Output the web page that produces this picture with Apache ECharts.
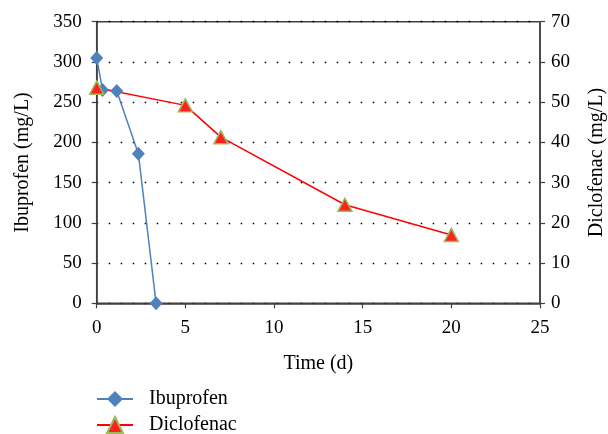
<!DOCTYPE html>
<html><head><meta charset="utf-8">
<script src="https://cdn.jsdelivr.net/npm/echarts@6/dist/echarts.min.js"></script>
<style>html,body{margin:0;padding:0;background:#fff}#c{width:608px;height:434px}</style>
</head><body><div id="c"></div>
<script>
const ibuTime = [0, 0.33, 1.13, 2.35, 3.35];
const ibuValues = [305, 265, 264, 186, 0];
const dicTime = [0, 5, 7, 14, 20];
const dicValues = [53.6, 49.2, 41.3, 24.5, 17.0];
const xTicks = [0, 5, 10, 15, 20, 25];
const leftTicks = [0, 50, 100, 150, 200, 250, 300, 350];
const rightTicks = [0, 10, 20, 30, 40, 50, 60, 70];

const font = 'Liberation Serif';
const axisCol = '#404040';
const tickFont = 19, nameFont = 20;
const chart = echarts.init(document.getElementById('c'));
const legendBase = {
  orient: 'vertical', left: 96, itemWidth: 36, itemHeight: 20, padding: 0,
  textStyle: {fontFamily: font, fontSize: nameFont, color: '#000', padding: [0, 0, 0, 11]}
};
chart.setOption({
  animation: false,
  textStyle: {fontFamily: font},
  grid: {left: 96.7, right: 68, top: 21.7, bottom: 130.7, containLabel: false, outerBoundsMode: 'none',
         show: true, borderColor: axisCol, borderWidth: 1.5, backgroundColor: 'transparent'},
  legend: [
    Object.assign({}, legendBase, {top: 389, data: ['Ibuprofen']}),
    Object.assign({}, legendBase, {top: 415, data: ['Diclofenac']})
  ],
  xAxis: {
    type: 'value', min: 0, max: 25, interval: 5,
    name: 'Time (d)', nameLocation: 'middle', nameGap: 50,
    nameTextStyle: {fontFamily: font, fontSize: nameFont, color: '#000'},
    axisLine: {lineStyle: {color: axisCol, width: 1.5}},
    axisTick: {show: true, length: 5, inside: false, lineStyle: {color: axisCol, width: 1.2}},
    axisLabel: {fontFamily: font, fontSize: tickFont, color: '#000', margin: 15},
    splitLine: {show: false}
  },
  yAxis: [{
    type: 'value', min: 0, max: 350, interval: 50, position: 'left',
    name: 'Ibuprofen (mg/L)', nameLocation: 'middle', nameGap: 64, nameRotate: 90,
    nameTextStyle: {fontFamily: font, fontSize: nameFont, color: '#000'},
    axisLine: {show: true, lineStyle: {color: axisCol, width: 1.5}},
    axisTick: {show: true, length: 5, lineStyle: {color: axisCol, width: 1.2}},
    axisLabel: {fontFamily: font, fontSize: tickFont, color: '#000', margin: 15},
    splitLine: {show: true, lineStyle: {color: '#000', type: [1.5, 10.5], width: 1.3}}
  }, {
    type: 'value', min: 0, max: 70, interval: 10, position: 'right',
    name: 'Diclofenac (mg/L)', nameLocation: 'middle', nameGap: 47, nameRotate: 90,
    nameTextStyle: {fontFamily: font, fontSize: nameFont, color: '#000'},
    axisLine: {show: true, lineStyle: {color: axisCol, width: 1.5}},
    axisTick: {show: true, length: 5, lineStyle: {color: axisCol, width: 1.2}},
    axisLabel: {fontFamily: font, fontSize: tickFont, color: '#000', margin: 11},
    splitLine: {show: false}
  }],
  series: [{
    name: 'Ibuprofen', type: 'line', yAxisIndex: 0,
    data: ibuTime.map((t, i) => [t, ibuValues[i]]),
    symbol: 'diamond', symbolSize: [13, 14],
    lineStyle: {color: '#4F81BD', width: 1.5},
    itemStyle: {color: '#4F81BD'}
  }, {
    name: 'Diclofenac', type: 'line', yAxisIndex: 1,
    data: dicTime.map((t, i) => [t, dicValues[i]]),
    symbol: 'triangle', symbolSize: [14, 13],
    lineStyle: {color: '#FF0000', width: 1.5},
    itemStyle: {color: '#FF2020', borderColor: '#9BBB59', borderWidth: 1.5}
  }]
});
</script></body></html>
